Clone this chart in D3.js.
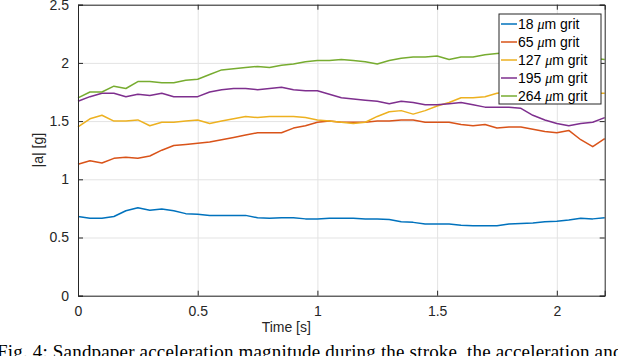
<!DOCTYPE html>
<html>
<head>
<meta charset="utf-8">
<script src="https://cdn.jsdelivr.net/npm/d3@7"></script>
<style>
  body { margin: 0; background: #fff; }
  svg { display: block; }
</style>
</head>
<body>
<svg id="chart" width="618" height="356"></svg>
<script>
// time samples [s]
const time = [0, 0.05, 0.1, 0.15, 0.2, 0.25, 0.3, 0.35, 0.4, 0.45, 0.5, 0.55, 0.6, 0.65, 0.7, 0.75, 0.8, 0.85, 0.9, 0.95,
  1, 1.05, 1.1, 1.15, 1.2, 1.25, 1.3, 1.35, 1.4, 1.45, 1.5, 1.55, 1.6, 1.65, 1.7, 1.75, 1.8, 1.85, 1.9, 1.95,
  2, 2.05, 2.1, 2.15, 2.2];

// |a| [g] per grit size
const grit18 = [0.68, 0.665, 0.665, 0.68, 0.73, 0.755, 0.735, 0.745, 0.73, 0.705, 0.70, 0.69, 0.69, 0.69, 0.69, 0.67, 0.665, 0.67, 0.67, 0.66,
  0.66, 0.665, 0.665, 0.665, 0.66, 0.66, 0.655, 0.635, 0.63, 0.615, 0.615, 0.615, 0.605, 0.60, 0.60, 0.60, 0.615, 0.62, 0.625, 0.635,
  0.64, 0.65, 0.665, 0.66, 0.67];
const grit65 = [1.13, 1.16, 1.14, 1.18, 1.19, 1.18, 1.20, 1.25, 1.29, 1.30, 1.31, 1.32, 1.34, 1.36, 1.38, 1.40, 1.40, 1.40, 1.44, 1.46,
  1.49, 1.50, 1.49, 1.49, 1.49, 1.50, 1.50, 1.51, 1.51, 1.49, 1.49, 1.49, 1.47, 1.46, 1.47, 1.44, 1.45, 1.45, 1.43, 1.41,
  1.40, 1.42, 1.34, 1.28, 1.35];
const grit127 = [1.45, 1.52, 1.55, 1.50, 1.50, 1.51, 1.46, 1.49, 1.49, 1.50, 1.51, 1.48, 1.50, 1.52, 1.54, 1.53, 1.54, 1.54, 1.54, 1.53,
  1.51, 1.50, 1.49, 1.48, 1.49, 1.54, 1.58, 1.59, 1.56, 1.59, 1.63, 1.66, 1.70, 1.70, 1.71, 1.74, 1.75, 1.74, 1.73, 1.74,
  1.73, 1.72, 1.73, 1.74, 1.74];
const grit195 = [1.67, 1.71, 1.74, 1.74, 1.71, 1.73, 1.72, 1.74, 1.71, 1.71, 1.71, 1.75, 1.77, 1.78, 1.78, 1.77, 1.78, 1.79, 1.77, 1.76,
  1.76, 1.73, 1.70, 1.69, 1.68, 1.67, 1.65, 1.67, 1.66, 1.64, 1.64, 1.65, 1.66, 1.64, 1.62, 1.62, 1.62, 1.61, 1.55, 1.51,
  1.48, 1.46, 1.48, 1.49, 1.53];
const grit264 = [1.70, 1.75, 1.75, 1.80, 1.78, 1.84, 1.84, 1.83, 1.83, 1.85, 1.86, 1.90, 1.94, 1.95, 1.96, 1.97, 1.96, 1.98, 1.99, 2.01,
  2.02, 2.02, 2.03, 2.02, 2.01, 1.99, 2.02, 2.04, 2.05, 2.05, 2.06, 2.03, 2.05, 2.05, 2.07, 2.08, 2.09, 2.10, 2.09, 2.08,
  2.07, 2.06, 2.05, 2.04, 2.03];

const seriesNames = ["18", "65", "127", "195", "264"];
const seriesColors = ["#0072BD", "#D95319", "#EDB120", "#7E2F8E", "#77AC30"];
const xTicks = [0, 0.5, 1, 1.5, 2];
const yTicks = [0, 0.5, 1, 1.5, 2, 2.5];

const series = [grit18, grit65, grit127, grit195, grit264].map((vals, i) => ({
  name: seriesNames[i],
  color: seriesColors[i],
  items: vals.map((v, j) => ({ t: time[j], v: v }))
}));

const margin = { left: 78, top: 4.7, right: 13.3, bottom: 60.3 };
const W = 618, H = 356;
const width = W - margin.left - margin.right;
const height = H - margin.top - margin.bottom;
const ink = "#262626";
const font = "'Liberation Sans', Arial, sans-serif";

const svg = d3.select("#chart");
const g = svg.append("g").attr("transform", `translate(${margin.left},${margin.top})`);

const x = d3.scaleLinear().domain([0, 2.2]).range([0, width]);
const y = d3.scaleLinear().domain([0, 2.5]).range([height, 0]);

// grid
const xGrid = g.append("g").attr("transform", `translate(0,${height})`)
  .call(d3.axisBottom(x).tickValues(xTicks).tickSize(-height).tickFormat(""));
const yGrid = g.append("g")
  .call(d3.axisLeft(y).tickValues(yTicks).tickSize(-width).tickFormat(""));
[xGrid, yGrid].forEach(a => {
  a.select(".domain").remove();
  a.selectAll("line").attr("stroke", "#e3e3e3").attr("stroke-width", 1);
});

// lines
const line = d3.line().x(d => x(d.t)).y(d => y(d.v));
g.selectAll(".series")
  .data(series)
  .enter()
  .append("path")
  .attr("fill", "none")
  .attr("stroke", d => d.color)
  .attr("stroke-width", 1.5)
  .attr("stroke-linejoin", "round")
  .attr("d", d => line(d.items));

// box + inward ticks on all sides
const axB = g.append("g").attr("transform", `translate(0,${height})`)
  .call(d3.axisBottom(x).tickValues(xTicks).tickSize(-5).tickPadding(10).tickFormat(d3.format("")));
const axL = g.append("g")
  .call(d3.axisLeft(y).tickValues(yTicks).tickSize(-5).tickPadding(9).tickFormat(d3.format("")));
const axT = g.append("g")
  .call(d3.axisTop(x).tickValues(xTicks).tickSize(-5).tickFormat(""));
const axR = g.append("g").attr("transform", `translate(${width},0)`)
  .call(d3.axisRight(y).tickValues(yTicks).tickSize(-5).tickFormat(""));
[axB, axL, axT, axR].forEach(a => {
  a.select(".domain").attr("stroke", ink).attr("stroke-width", 1);
  a.selectAll("line").attr("stroke", ink);
  a.selectAll("text").attr("fill", ink).attr("font-family", font).attr("font-size", 14);
});

// axis labels
g.append("text")
  .attr("x", x(0.87)).attr("y", height + 36)
  .attr("text-anchor", "middle")
  .attr("font-family", font).attr("font-size", 14).attr("fill", ink)
  .text("Time [s]");
g.append("text")
  .attr("transform", `translate(${-35},${y(1.25)}) rotate(-90)`)
  .attr("text-anchor", "middle")
  .attr("font-family", font).attr("font-size", 14).attr("fill", ink)
  .text("|a| [g]");

// legend
const leg = svg.append("g").attr("transform", "translate(499,14)");
leg.append("rect")
  .attr("width", 102).attr("height", 90)
  .attr("fill", "#fff").attr("stroke", ink).attr("stroke-width", 1);
const rows = leg.selectAll(".row")
  .data(series)
  .enter()
  .append("g")
  .attr("transform", (d, i) => `translate(0,${10 + i * 18})`);
rows.append("line")
  .attr("x1", 2).attr("x2", 18)
  .attr("stroke", d => d.color).attr("stroke-width", 1.5);
const lt = rows.append("text")
  .attr("x", 19).attr("dy", "0.35em")
  .attr("font-family", font).attr("font-size", 14).attr("fill", "#000");
lt.append("tspan").text(d => d.name + " ");
lt.append("tspan").attr("font-family", "'Liberation Serif', 'DejaVu Serif', serif")
  .attr("font-style", "italic").text("\u03bc");
lt.append("tspan").text("m grit");

// caption (cut by the page edge, as in the source figure)
svg.append("text")
  .attr("x", -3).attr("y", 358)
  .attr("font-family", "'Liberation Serif', 'DejaVu Serif', serif")
  .attr("font-size", 19).attr("fill", "#000")
  .attr("textLength", 640).attr("lengthAdjust", "spacing")
  .text("Fig. 4: Sandpaper acceleration magnitude during the stroke, the acceleration and d");
</script>
</body>
</html>
